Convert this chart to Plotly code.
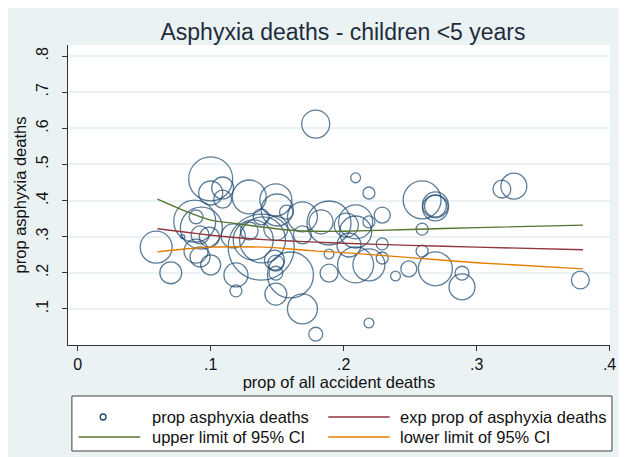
import numpy as np
import plotly.graph_objects as go

# ---- data ----
prop_all_accident = [0.059, 0.070, 0.100, 0.100, 0.109, 0.109, 0.089, 0.088, 0.093, 0.099,
                     0.089, 0.092, 0.100, 0.119, 0.119, 0.129, 0.149, 0.150, 0.157, 0.169,
                     0.189, 0.202, 0.138, 0.132, 0.139, 0.129, 0.117, 0.169, 0.149, 0.149,
                     0.149, 0.160, 0.169, 0.179, 0.179, 0.189, 0.189, 0.204, 0.209, 0.219,
                     0.209, 0.209, 0.219, 0.229, 0.229, 0.229, 0.209, 0.219, 0.239, 0.249,
                     0.259, 0.269, 0.269, 0.269, 0.259, 0.259, 0.269, 0.289, 0.289, 0.219,
                     0.319, 0.328, 0.378, 0.138, 0.183, 0.148, 0.092, 0.149, 0.079]
prop_asphyxia = [0.271, 0.200, 0.460, 0.421, 0.435, 0.404, 0.355, 0.343, 0.324, 0.299,
                 0.260, 0.244, 0.222, 0.194, 0.150, 0.410, 0.402, 0.374, 0.368, 0.355,
                 0.338, 0.332, 0.271, 0.291, 0.291, 0.316, 0.302, 0.305, 0.227, 0.199,
                 0.141, 0.194, 0.100, 0.030, 0.612, 0.199, 0.252, 0.277, 0.463, 0.421,
                 0.341, 0.313, 0.341, 0.360, 0.280, 0.241, 0.222, 0.222, 0.191, 0.211,
                 0.402, 0.388, 0.380, 0.385, 0.321, 0.260, 0.211, 0.199, 0.161, 0.061,
                 0.432, 0.440, 0.180, 0.355, 0.341, 0.235, 0.305, 0.323, 0.300]
total_deaths = [64, 30, 121, 36, 30, 20, 12, 110, 110, 25,
                36, 25, 25, 36, 9, 72, 64, 64, 12, 56,
                121, 36, 272, 100, 132, 20, 36, 20, 16, 12,
                30, 132, 56, 12, 49, 20, 6, 36, 6, 9,
                72, 64, 9, 16, 9, 9, 81, 64, 6, 16,
                90, 42, 42, 30, 9, 9, 72, 12, 42, 6,
                20, 42, 20, 16, 36, 25, 20, 36, 1]

fit_x = [0.06, 0.08, 0.10, 0.12, 0.14, 0.16, 0.18, 0.20, 0.25, 0.30, 0.38]
exp_prop = [0.322, 0.313, 0.304, 0.297, 0.292, 0.288, 0.285, 0.282, 0.276, 0.271, 0.264]
upper_ci = [0.404, 0.372, 0.346, 0.336, 0.326, 0.318, 0.315, 0.315, 0.320, 0.325, 0.332]
lower_ci = [0.258, 0.266, 0.271, 0.272, 0.271, 0.266, 0.260, 0.256, 0.242, 0.228, 0.211]

x_ticks = [0, 0.1, 0.2, 0.3, 0.4]
x_ticklabels = ["0", ".1", ".2", ".3", ".4"]
y_ticks = [0.1, 0.2, 0.3, 0.4, 0.5, 0.6, 0.7, 0.8]
y_ticklabels = [".1", ".2", ".3", ".4", ".5", ".6", ".7", ".8"]

NAVY = "#1a476f"
MAROON = "#90353b"
GREEN = "#55752f"
ORANGE = "#e37e00"
BG = "#eaf2f3"
FONT = "Liberation Sans, Arial, sans-serif"

OFF = 8                      # page body margin
W, H = 628 - OFF, 457 - OFF  # figure size that fits the window
ML, MR, MT, MB = 52, 12, 37, 112
PW, PH = W - ML - MR, H - MT - MB


def px_x(p):  # page pixel -> paper x
    return (p - OFF - ML) / PW


def px_y(p):  # page pixel -> paper y
    return (H - MB - (p - OFF)) / PH


fig = go.Figure()

sizes = 4 * np.sqrt(np.array(total_deaths, dtype=float))
fig.add_trace(go.Scatter(
    x=prop_all_accident, y=prop_asphyxia, mode="markers",
    name="prop asphyxia deaths",
    marker=dict(size=sizes, sizemode="diameter", color="rgba(0,0,0,0)",
                line=dict(color=NAVY, width=1.3)),
    showlegend=False))

for vals, col, nm in [(exp_prop, MAROON, "exp prop of asphyxia deaths"),
                      (upper_ci, GREEN, "upper limit of 95% CI"),
                      (lower_ci, ORANGE, "lower limit of 95% CI")]:
    fig.add_trace(go.Scatter(x=fit_x, y=vals, mode="lines", name=nm,
                             line=dict(color=col, width=1.4, shape="spline", smoothing=0.6),
                             showlegend=False))

shapes = []
annotations = []
# white strip at the right edge of the window
shapes.append(dict(type="rect", xref="paper", yref="paper", x0=px_x(625), x1=px_x(640),
                   y0=px_y(470), y1=px_y(0), fillcolor="white", line=dict(width=0), layer="below"))

# legend box
shapes.append(dict(type="rect", xref="paper", yref="paper", x0=px_x(64), x1=px_x(618),
                   y0=px_y(451), y1=px_y(396), fillcolor="white",
                   line=dict(color="#404040", width=1)))
row1, row2 = 417, 437
shapes.append(dict(type="circle", xref="paper", yref="paper", x0=px_x(93), x1=px_x(99),
                   y0=px_y(row1 + 3), y1=px_y(row1 - 3), line=dict(color=NAVY, width=1.3)))
for (x0, x1, yy, col) in [(327, 390, row1, MAROON), (71, 134, row2, GREEN), (327, 390, row2, ORANGE)]:
    shapes.append(dict(type="line", xref="paper", yref="paper", x0=px_x(x0), x1=px_x(x1),
                       y0=px_y(yy), y1=px_y(yy), line=dict(color=col, width=1.4)))
for (xx, yy, txt) in [(144, row1, "prop asphyxia deaths"), (399, row1, "exp prop of asphyxia deaths"),
                      (144, row2, "upper limit of 95% CI"), (399, row2, "lower limit of 95% CI")]:
    annotations.append(dict(xref="paper", yref="paper", x=px_x(xx), y=px_y(yy), text=txt,
                            showarrow=False, xanchor="left", yanchor="middle",
                            font=dict(family=FONT, size=16.5, color="#111")))

fig.update_layout(
    width=W, height=H,
    margin=dict(l=ML, r=MR, t=MT, b=MB),
    paper_bgcolor=BG, plot_bgcolor="white",
    font=dict(family=FONT, color="#111"),
    title=dict(text="Asphyxia deaths - children <5 years", x=(343 - OFF) / W, xref="container",
               xanchor="center", y=1 - (32 - OFF) / H, yref="container", yanchor="middle",
               font=dict(family=FONT, size=23, color="#1f2d3d")),
    xaxis=dict(range=[-0.0073, 0.4003], tickvals=x_ticks, ticktext=x_ticklabels,
               showgrid=False, zeroline=False, showline=True, linecolor="#333", linewidth=1,
               ticks="outside", ticklen=5, tickcolor="#333", tickfont=dict(size=16),
               title=dict(text="prop of all accident deaths", font=dict(size=16.5), standoff=0)),
    yaxis=dict(range=[0, 0.831], tickvals=y_ticks, ticktext=y_ticklabels, tickangle=-90,
               showgrid=True, gridcolor=BG, gridwidth=1.5, zeroline=False,
               showline=True, linecolor="#333", linewidth=1,
               ticks="outside", ticklen=5, tickcolor="#333", tickfont=dict(size=16),
               ticklabelstandoff=8,
               title=dict(text="prop asphyxia deaths", font=dict(size=16.5), standoff=2)),
    shapes=shapes, annotations=annotations,
)

fig.write_html("out.html")
